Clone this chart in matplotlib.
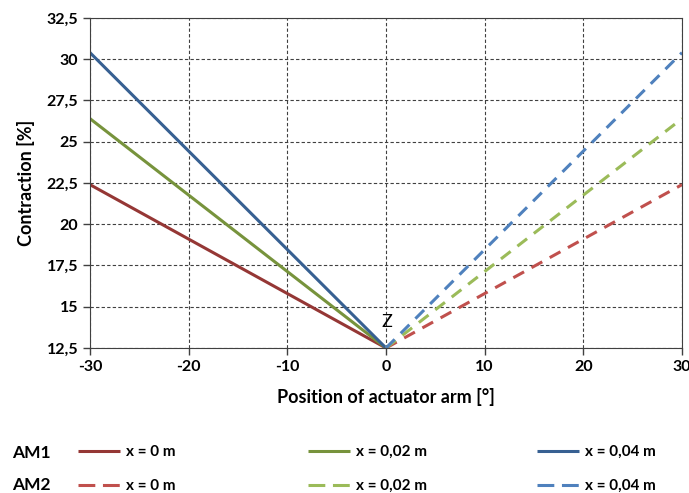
import numpy as np
import matplotlib
matplotlib.use("Agg")
import matplotlib.pyplot as plt
from matplotlib.lines import Line2D

plt.rcParams['font.family'] = ['Lato', 'DejaVu Sans']
plt.rcParams['axes.unicode_minus'] = False

# data: contraction at the ends, all lines meet at (0, 12.5)
pos_left = [-30, 0]
pos_right = [0, 30]
am1_x0 = [22.4, 12.5]
am1_x002 = [26.4, 12.5]
am1_x004 = [30.4, 12.5]
am2_x0 = [12.5, 22.4]
am2_x002 = [12.5, 26.4]
am2_x004 = [12.5, 30.4]
labels = ['x = 0 m', 'x = 0,02 m', 'x = 0,04 m']

dark = ['#953735', '#77933C', '#376092']
light = ['#C0504D', '#9BBB59', '#4F81BD']

fig = plt.figure(figsize=(6.89, 4.93), dpi=100)
ax = fig.add_axes([90/689, 145/493, 592/689, 330/493])

solid = []
dashed = []
for ys, c, lab in zip([am1_x0, am1_x002, am1_x004], dark, labels):
    l, = ax.plot(pos_left, ys, color=c, lw=2.2, label=lab, solid_capstyle='butt')
    solid.append(l)
for ys, c, lab in zip([am2_x0, am2_x002, am2_x004], light, labels):
    ax.plot(pos_right, ys, color=c, lw=2.2, ls=(0, (4, 2.8)), label=lab)
    # legend handle with longer dashes, as in the original
    dashed.append(Line2D([], [], color=c, lw=2.2, ls=(0, (5.5, 2.5))))

ax.text(0.1, 14.05, 'Z', ha='center', va='center', fontsize=13)

ax.set_xlim(-30, 30)
ax.set_ylim(12.5, 32.5)
ax.set_xticks([-30, -20, -10, 0, 10, 20, 30])
yt = np.arange(12.5, 32.6, 2.5)
ax.set_yticks(yt)
ax.set_yticklabels([('%g' % v).replace('.', ',') for v in yt])
ax.tick_params(labelsize=11.5, length=5, color='#404040', width=1)
for t in ax.get_xticklabels() + ax.get_yticklabels():
    t.set_fontweight('bold')
ax.grid(True, ls=(0, (3, 2)), color='#404040', lw=0.8)
for s in ax.spines.values():
    s.set_color('#404040')
ax.set_axisbelow(True)
ax.set_ylabel('Contraction [%]', fontsize=13, fontweight='bold', labelpad=8)
ax.set_xlabel('Position of actuator arm [°]', fontsize=13, fontweight='bold', labelpad=10)

# legend: one small legend per column
xs = [78, 308, 537]
for i in range(3):
    fig.legend([solid[i], dashed[i]], [labels[i], labels[i]],
               loc='upper left', bbox_to_anchor=(xs[i]/689, 1 - 445/493),
               frameon=False, borderpad=0, borderaxespad=0,
               handlelength=2.75, handletextpad=0.4, labelspacing=1.3,
               prop={'weight': 'bold', 'size': 11})
fig.text(12/689, 1 - 453/493, 'AM1', fontsize=12.5, fontweight='bold', va='center')
fig.text(12/689, 1 - 485/493, 'AM2', fontsize=12.5, fontweight='bold', va='center')

fig.savefig('out.png', dpi=100)
